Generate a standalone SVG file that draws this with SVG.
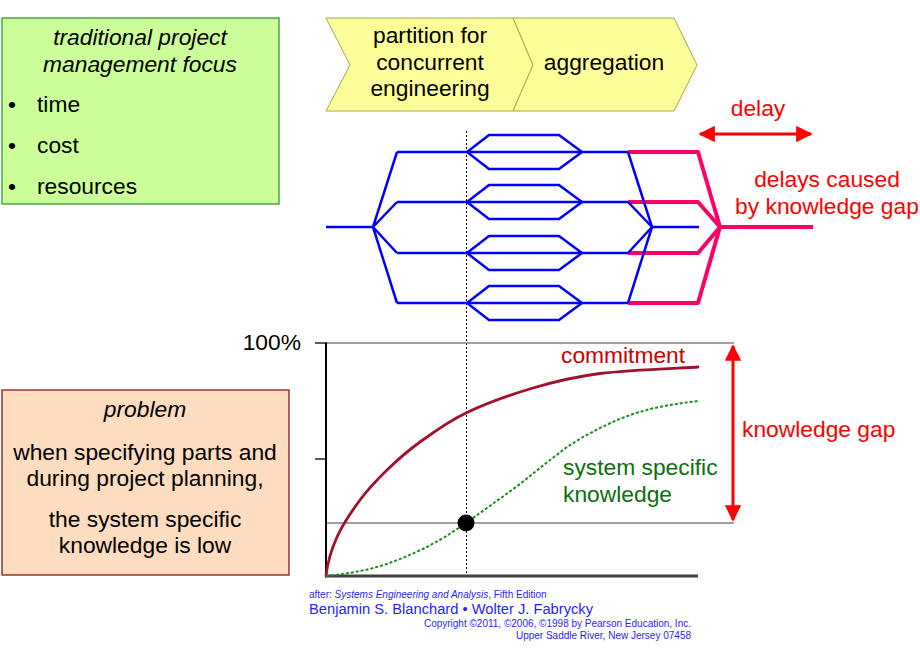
<svg xmlns="http://www.w3.org/2000/svg" width="920" height="660" viewBox="0 0 920 660">
<defs>
<style>
text{font-family:"Liberation Sans",Arial,sans-serif;}
.t22{font-size:22.8px;}
.it{font-style:italic;}
.blk{fill:#000;}
.red{fill:#ff0000;}
.blue{fill:none;stroke:#0000ff;stroke-width:2.5;stroke-linejoin:round;}
.pink{fill:none;stroke:#ff0066;stroke-width:4;stroke-linejoin:round;}
.gray{stroke:#808080;stroke-width:1.3;fill:none;}
.chev{fill:#ffff99;stroke:#a6a64a;stroke-width:1;}
.cr{font-size:10px;fill:#1f1fff;}
</style>
<marker id="ah" viewBox="0 0 10 10" refX="9" refY="5" markerWidth="8" markerHeight="5.5" orient="auto-start-reverse" markerUnits="strokeWidth">
<path d="M0,0 L10,5 L0,10 Z" fill="#ff0000"/>
</marker>
</defs>
<rect width="920" height="660" fill="#ffffff"/>

<g id="focus-box">
<rect x="2" y="18" width="277" height="186" fill="#ccff99" stroke="#339933" stroke-width="1.3"/>
<text class="t22 it blk" x="140" y="45" text-anchor="middle">traditional project</text>
<text class="t22 it blk" x="140" y="72" text-anchor="middle">management focus</text>
<text class="t22 blk" x="8" y="112">•</text><text class="t22 blk" x="37" y="112">time</text>
<text class="t22 blk" x="8" y="153">•</text><text class="t22 blk" x="37" y="153">cost</text>
<text class="t22 blk" x="8" y="194">•</text><text class="t22 blk" x="37" y="194">resources</text>
</g>

<g id="problem-box">
<rect x="2" y="390" width="287" height="185" fill="#fddcc0" stroke="#8b1a1a" stroke-width="1.3"/>
<text class="t22 it blk" x="145" y="417" text-anchor="middle">problem</text>
<text class="t22 blk" x="145" y="460" text-anchor="middle">when specifying parts and</text>
<text class="t22 blk" x="145" y="486" text-anchor="middle">during project planning,</text>
<text class="t22 blk" x="145" y="527" text-anchor="middle">the system specific</text>
<text class="t22 blk" x="145" y="553" text-anchor="middle">knowledge is low</text>
</g>

<g id="chevron-partition">
<polygon class="chev" points="326,18 513,18 533,65 513,111 326,111 350,65"/>
<text class="t22 blk" x="430" y="43" text-anchor="middle">partition for</text>
<text class="t22 blk" x="430" y="70" text-anchor="middle">concurrent</text>
<text class="t22 blk" x="430" y="96" text-anchor="middle">engineering</text>
</g>

<g id="chevron-aggregation">
<polygon class="chev" points="513,18 674,18 697,65 674,111 513,111 533,65"/>
<text class="t22 blk" x="604" y="70" text-anchor="middle">aggregation</text>
</g>

<g id="connectors">
<line x1="466.5" y1="131" x2="466.5" y2="577" stroke="#000" stroke-width="1" stroke-dasharray="2,2"/>
<path class="pink" d="M628,152 H698 L720,227 L698,303 H628 M628,202 H698 L720,227 L698,253 H628 M720,227 H813"/>
<path class="blue" d="M326,227 H373 M397,152 L373,227 L397,303 M397,202 L373,227 L397,253 M397,152 H628 M397,202 H628 M397,253 H628 M397,303 H628 M628,152 L652,227 L628,303 M628,202 L652,227 L628,253 M652,227 H699"/>
<polygon class="blue" points="467,152 489,135 559,135 582,152 559,169 489,169"/>
<polygon class="blue" points="467,202 489,185 559,185 582,202 559,219 489,219"/>
<polygon class="blue" points="467,253 489,236 559,236 582,253 559,270 489,270"/>
<polygon class="blue" points="467,303 489,286 559,286 582,303 559,320 489,320"/>
<line x1="700" y1="134" x2="811" y2="134" stroke="#ff0000" stroke-width="3" marker-start="url(#ah)" marker-end="url(#ah)"/>
</g>

<g id="delay-labels">
<text class="t22 red" x="758" y="116" text-anchor="middle">delay</text>
<text class="t22 red" x="827" y="187" text-anchor="middle">delays caused</text>
<text class="t22 red" x="827" y="214" text-anchor="middle">by knowledge gap</text>
</g>

<g id="chart">
<line class="gray" x1="326" y1="343" x2="734" y2="343"/>
<line class="gray" x1="326" y1="523" x2="734" y2="523"/>
<line x1="315" y1="343" x2="327" y2="343" stroke="#000" stroke-width="1.3"/>
<line x1="315" y1="459" x2="327" y2="459" stroke="#000" stroke-width="1.3"/>
<line x1="326" y1="343" x2="326" y2="577" stroke="#000" stroke-width="2"/>
<line x1="325" y1="576" x2="698" y2="576" stroke="#404040" stroke-width="3"/>
<text class="t22 blk" x="301" y="350" text-anchor="end">100%</text>
<path d="M326,576 C327.5,562 331.3,549.7 337,537 C342.7,524.3 351.7,511.2 360,500 C368.3,488.8 377,479.7 387,470 C397,460.3 406.8,451.5 420,442 C433.2,432.5 447.2,422 466,413 C484.8,404 510.7,394.6 533,388 C555.3,381.4 572.5,377 600,373.5 C627.5,370 681.7,368.1 698,367" fill="none" stroke="#a3102e" stroke-width="2.8" stroke-linecap="round"/>
<path d="M326,576 L340,574.5 L355,572 L370,569 L387,564 L405,557 L425,548 L445,537 L466,523 L487,508 L505,495 L520,484 L535,472 L550,460 L567,447 L583,437 L600,428 L617,420 L633,414 L650,409 L667,405.5 L683,403 L698,401" fill="none" stroke="#1a8c1a" stroke-width="2" stroke-dasharray="3,2"/>
<circle cx="466" cy="523" r="8.5" fill="#000"/>
<text class="t22" x="561" y="363" fill="#cc0000">commitment</text>
<text class="t22" x="563" y="475" fill="#0b700b">system specific</text>
<text class="t22" x="563" y="502" fill="#0b700b">knowledge</text>
<line x1="733" y1="346" x2="733" y2="520" stroke="#ff0000" stroke-width="3" marker-start="url(#ah)" marker-end="url(#ah)"/>
<text class="t22 red" x="742" y="437">knowledge gap</text>
</g>

<g id="credits">
<text class="cr" x="309" y="598">after: <tspan font-style="italic">Systems Engineering and Analysis</tspan>, Fifth Edition</text>
<text x="309" y="614" font-size="14.7" fill="#1f1fff">Benjamin S. Blanchard • Wolter J. Fabrycky</text>
<text class="cr" x="691" y="627" text-anchor="end">Copyright ©2011, ©2006, ©1998 by Pearson Education, Inc.</text>
<text class="cr" x="691" y="639" text-anchor="end">Upper Saddle River, New Jersey 07458</text>
</g>
</svg>
